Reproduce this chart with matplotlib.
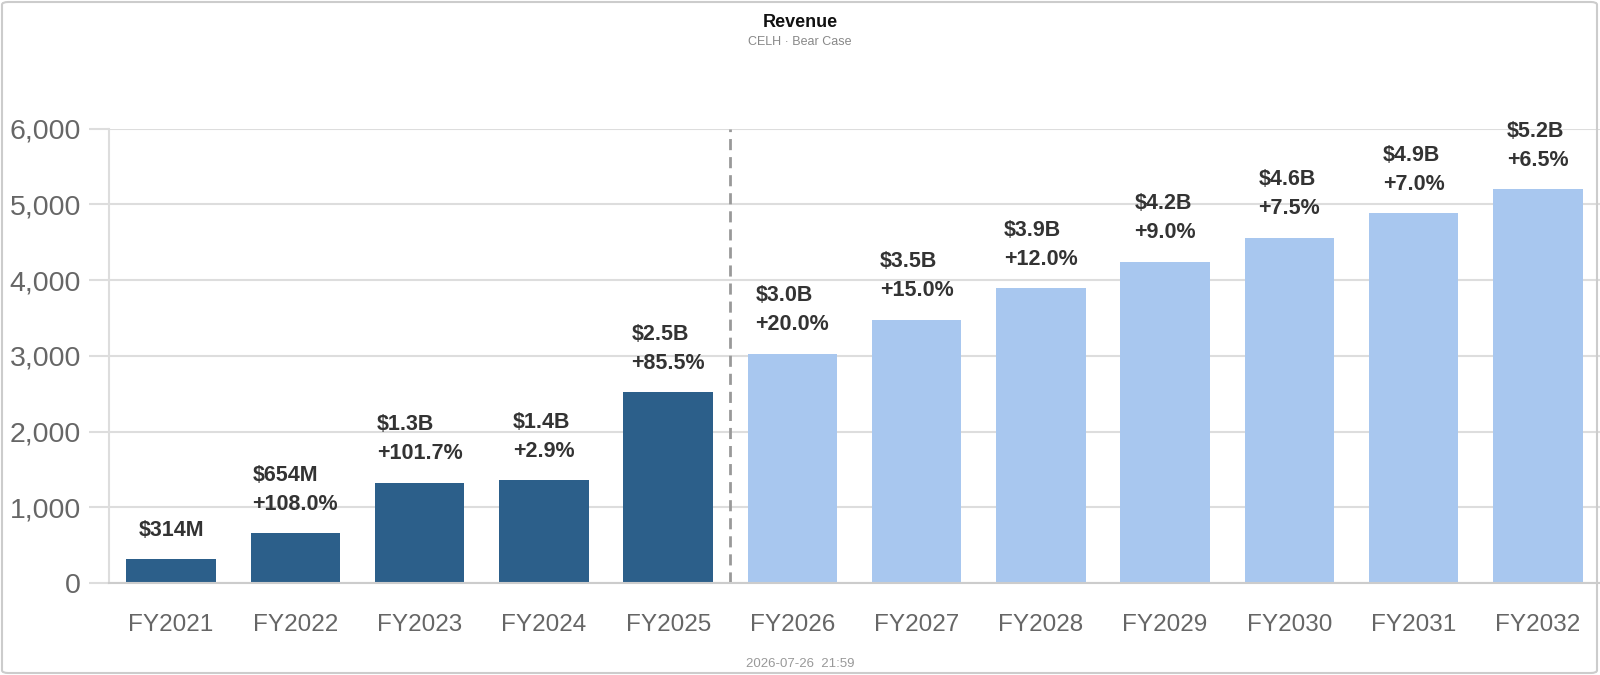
import matplotlib
matplotlib.use('Agg')
import matplotlib.pyplot as plt
from matplotlib.patches import FancyBboxPatch
from matplotlib.ticker import FuncFormatter

plt.rcParams['font.family'] = ['Liberation Sans', 'DejaVu Sans']

# dados (milhões de USD)
anos = ['FY2021', 'FY2022', 'FY2023', 'FY2024', 'FY2025', 'FY2026',
        'FY2027', 'FY2028', 'FY2029', 'FY2030', 'FY2031', 'FY2032']
receita = [314, 654, 1319, 1357, 2518, 3022, 3475, 3892, 4242, 4560, 4879, 5196]
rotulos = ['$314M', '$654M', '$1.3B', '$1.4B', '$2.5B', '$3.0B',
           '$3.5B', '$3.9B', '$4.2B', '$4.6B', '$4.9B', '$5.2B']
crescimento = ['', '+108.0%', '+101.7%', '+2.9%', '+85.5%', '+20.0%',
               '+15.0%', '+12.0%', '+9.0%', '+7.5%', '+7.0%', '+6.5%']
n_historico = 5

cor_hist = '#2c5f8a'
cor_proj = '#a8c7ef'

fig = plt.figure(figsize=(16, 6.75), dpi=100)
ax = fig.add_axes([109 / 1600, 1 - 583 / 675, 1 - 109 / 1600, (583 - 128.5) / 675])

cores = [cor_hist if i < n_historico else cor_proj for i in range(len(anos))]
x = list(range(len(anos)))
ax.bar(x, receita, width=0.72, color=cores, zorder=2)

ax.set_xlim(-0.5, len(anos) - 0.5)
ax.set_ylim(0, 6000)
ax.set_yticks(range(0, 6001, 1000))
ax.yaxis.set_major_formatter(FuncFormatter(lambda v, p: f'{int(v):,}'))
ax.set_xticks(x)
ax.set_xticklabels(anos)

ax.grid(axis='y', color='#dddddd', linewidth=1.5, zorder=0)
ax.set_axisbelow(True)
for lado in ['top', 'right']:
    ax.spines[lado].set_visible(False)
ax.spines['left'].set_color('#dddddd')
ax.spines['left'].set_linewidth(1.5)
ax.spines['bottom'].set_color('#cccccc')
ax.spines['bottom'].set_linewidth(1.5)
ax.spines['bottom'].set_zorder(3)

ax.tick_params(axis='y', length=14.4, width=1.5, color='#dddddd', pad=5.8,
               labelsize=20.5, labelcolor='#666666')
ax.tick_params(axis='x', length=0, pad=22, labelsize=17.5, labelcolor='#666666')

# separador histórico / projeção
ax.axvline(n_historico - 0.5, color='#999999', linewidth=2,
           linestyle=(0, (4, 2.5)), zorder=3)

# rótulos das barras
for i, v in enumerate(receita):
    texto = rotulos[i] if not crescimento[i] else rotulos[i] + '\n' + crescimento[i]
    ax.annotate(texto, (i, v), xytext=(0, 17), textcoords='offset points',
                ha='center', va='baseline', multialignment='left',
                fontsize=15.5, fontweight='bold', color='#333333',
                linespacing=1.5, annotation_clip=False, zorder=4)

fig.text(0.5, 1 - 26.7 / 675, 'Revenue', ha='center', va='baseline',
         fontsize=13, fontweight='bold', color='#111111')
fig.text(0.5, 1 - 45 / 675, 'CELH · Bear Case', ha='center', va='baseline',
         fontsize=9, color='#888888')
fig.text(0.5, 1 - 667 / 675, '2026-07-26  21:59', ha='center', va='baseline',
         fontsize=9.5, color='#999999')

borda = FancyBboxPatch((2 / 1600, 2 / 675), 1 - 5 / 1600, 1 - 4 / 675,
                       boxstyle='round,pad=0,rounding_size=0.004',
                       transform=fig.transFigure, facecolor='none',
                       edgecolor='#cccccc', linewidth=1.5, zorder=10)
fig.patches.append(borda)

fig.savefig('out.png', dpi=100)
